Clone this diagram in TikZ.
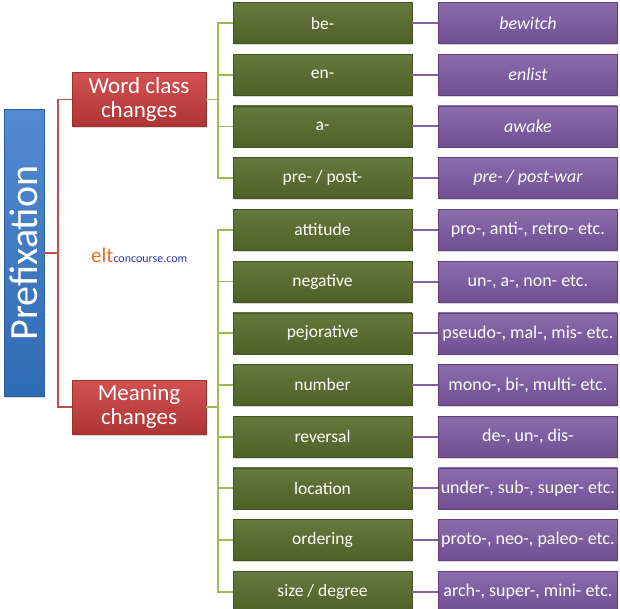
\documentclass[tikz,border=0pt]{standalone}
\usepackage{fontspec}
\setmainfont{Carlito}
\usepackage{xcolor}
\usepackage{tikz}
\usetikzlibrary{positioning,shadows}
\definecolor{prefblue}{RGB}{52,118,200}
\definecolor{classred}{RGB}{205,62,62}
\definecolor{affixgreen}{RGB}{88,110,44}
\definecolor{examplepurple}{RGB}{124,88,162}
\definecolor{redlink}{RGB}{192,80,77}
\definecolor{greenlink}{RGB}{155,187,89}
\definecolor{purplelink}{RGB}{128,100,162}
\definecolor{eltorange}{RGB}{240,112,30}
\definecolor{eltblue}{RGB}{50,55,180}

\begin{document}
\begin{tikzpicture}[
    x=1pt, y=-1pt,
    node distance=10.3pt,
    boxshadow/.style={drop shadow={shadow xshift=1pt, shadow yshift=-1.5pt, opacity=0.3}},
    bluebox/.style={rectangle, boxshadow, draw=prefblue!80!black, top color=prefblue!85!white, bottom color=prefblue!90!black, minimum width=287pt, minimum height=40pt, inner sep=0pt, text=white, font=\fontsize{40}{40}\selectfont},
    redbox/.style={rectangle, boxshadow, draw=classred!75!black, top color=classred!90!white, bottom color=classred!85!black, minimum width=134pt, minimum height=54pt, inner sep=0pt, align=center, text=white, font=\fontsize{23}{24}\selectfont},
    greenbox/.style={rectangle, boxshadow, draw=affixgreen!75!black, top color=affixgreen!92!white, bottom color=affixgreen!88!black, minimum width=179pt, minimum height=41pt, inner sep=0pt, text=white, font=\fontsize{17.5}{19}\selectfont},
    purplebox/.style={rectangle, boxshadow, draw=examplepurple!75!black, top color=examplepurple!88!white, bottom color=examplepurple!90!black, minimum width=179pt, minimum height=41pt, inner sep=0pt, text=white, font=\fontsize{18}{19}\selectfont},
    redline/.style={draw=redlink, line width=1.8pt},
    greenline/.style={draw=greenlink, line width=1.8pt},
    purpleline/.style={draw=purplelink, line width=2pt}
]
    \useasboundingbox (0,0) rectangle (620,608);

    % root and the two branches
    \node[bluebox, rotate=90] (pref) at (24,253) {Prefixation};
    \node[redbox] (wcc) at (139,99.5) {Word class\\changes};
    \node[redbox] (mc) at (139,407) {Meaning\\changes};

    % word class changes
    \node[greenbox] (be) at (322.5,23) {be-};
    \node[greenbox, below=of be] (en) {en-};
    \node[greenbox, below=of en] (a) {a-};
    \node[greenbox, below=of a] (prepost) {pre- / post-};
    \node[purplebox, right=26pt of be] (bewitch) {\itshape bewitch};
    \node[purplebox, right=26pt of en] (enlist) {\itshape enlist};
    \node[purplebox, right=26pt of a] (awake) {\itshape awake};
    \node[purplebox, right=26pt of prepost] (postwar) {\itshape pre- / post-war};

    % meaning changes
    \node[greenbox, below=of prepost] (attitude) {attitude};
    \node[greenbox, below=of attitude] (negative) {negative};
    \node[greenbox, below=of negative] (pejorative) {pejorative};
    \node[greenbox, below=of pejorative] (number) {number};
    \node[greenbox, below=of number] (reversal) {reversal};
    \node[greenbox, below=of reversal] (location) {location};
    \node[greenbox, below=of location] (ordering) {ordering};
    \node[greenbox, below=of ordering] (size) {size / degree};
    \node[purplebox, right=26pt of attitude] (proanti) {pro-, anti-, retro- etc.};
    \node[purplebox, right=26pt of negative] (unnon) {un-, a-, non- etc.};
    \node[purplebox, right=26pt of pejorative] (pseudo) {pseudo-, mal-, mis- etc.};
    \node[purplebox, right=26pt of number] (mono) {mono-, bi-, multi- etc.};
    \node[purplebox, right=26pt of reversal] (dedis) {de-, un-, dis-};
    \node[purplebox, right=26pt of location] (under) {under-, sub-, super- etc.};
    \node[purplebox, right=26pt of ordering] (proto) {proto-, neo-, paleo- etc.};
    \node[purplebox, right=26pt of size] (arch) {arch-, super-, mini- etc.};

    % logo
    \node[anchor=base west, inner sep=0pt] (logo) at (91,262) {{\fontsize{21}{21}\selectfont\color{eltorange}elt}{\fontsize{12}{12}\selectfont\color{eltblue}concourse.com}};

    % connectors
    \coordinate (rtrunk) at (58,253);
    \coordinate (gtop) at (218,99.5);
    \coordinate (gbot) at (218,407);
    \draw[redline] (pref.south) -- (rtrunk);
    \draw[redline] (wcc.west) -| (rtrunk) |- (mc.west);

    \draw[greenline] (wcc.east) -- (gtop);
    \draw[greenline] (gtop) |- (be.west);
    \draw[greenline] (gtop) |- (en.west);
    \draw[greenline] (gtop) |- (a.west);
    \draw[greenline] (gtop) |- (prepost.west);
    \draw[greenline] (mc.east) -- (gbot);
    \draw[greenline] (gbot) |- (attitude.west);
    \draw[greenline] (gbot) |- (negative.west);
    \draw[greenline] (gbot) |- (pejorative.west);
    \draw[greenline] (gbot) |- (number.west);
    \draw[greenline] (gbot) |- (reversal.west);
    \draw[greenline] (gbot) |- (location.west);
    \draw[greenline] (gbot) |- (ordering.west);
    \draw[greenline] (gbot) |- (size.west);

    \draw[purpleline] (be) -- (bewitch);
    \draw[purpleline] (en) -- (enlist);
    \draw[purpleline] (a) -- (awake);
    \draw[purpleline] (prepost) -- (postwar);
    \draw[purpleline] (attitude) -- (proanti);
    \draw[purpleline] (negative) -- (unnon);
    \draw[purpleline] (pejorative) -- (pseudo);
    \draw[purpleline] (number) -- (mono);
    \draw[purpleline] (reversal) -- (dedis);
    \draw[purpleline] (location) -- (under);
    \draw[purpleline] (ordering) -- (proto);
    \draw[purpleline] (size) -- (arch);
\end{tikzpicture}
\end{document}
